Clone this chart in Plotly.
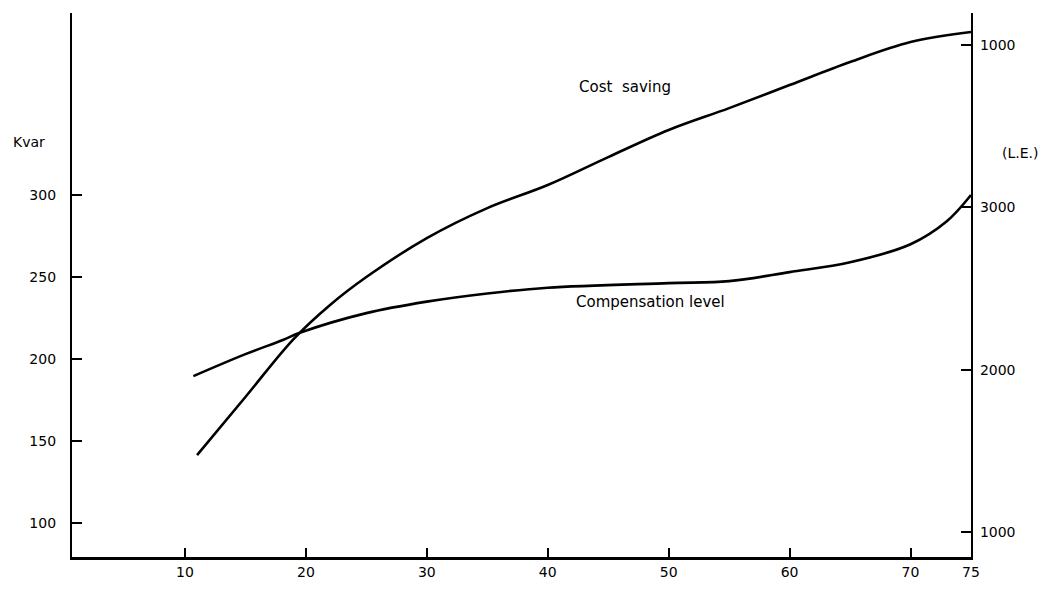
import plotly.graph_objects as go

# Data
x_comp = [10.7, 15, 18.1, 19.5, 25, 30, 35, 40, 50, 55, 60, 65, 70, 73, 75]
kvar_comp = [189.6, 203, 211.6, 216, 228, 235, 240, 243.5, 246.3, 247.5, 253, 259, 270, 284, 300]

x_cost = [11, 15, 19, 22, 25, 30, 35, 40, 45, 50, 55, 60, 65, 70, 75]
le_cost = [1474, 1832, 2190, 2399, 2571, 2811, 2996, 3138, 3310, 3477, 3612, 3754, 3896, 4019, 4081]

x_ticks = [10, 20, 30, 40, 50, 60, 70, 75]
left_ticks = [100, 150, 200, 250, 300]
right_ticks = [1000, 2000, 3000, 4000]
right_ticktext = ["1000", "2000", "3000", "1000"]

FONT = "DejaVu Sans"

fig = go.Figure()
fig.add_trace(go.Scatter(x=x_comp, y=kvar_comp, mode="lines",
                         line=dict(color="black", width=2.6, shape="spline", smoothing=1.0),
                         yaxis="y", showlegend=False))
fig.add_trace(go.Scatter(x=x_cost, y=le_cost, mode="lines",
                         line=dict(color="black", width=2.6, shape="spline", smoothing=1.0),
                         yaxis="y2", showlegend=False))

fig.update_layout(
    width=1054, height=594,
    margin=dict(l=64, r=91, t=5, b=45),
    paper_bgcolor="white", plot_bgcolor="white",
    font=dict(family=FONT, size=14, color="black"),
    xaxis=dict(range=[0.66, 75], tickvals=x_ticks, ticks="inside", ticklen=9,
               tickwidth=1.5, tickcolor="black", showline=True, linecolor="black",
               linewidth=2.5, showgrid=False, zeroline=False,
               ticklabelstandoff=0,
               tickfont=dict(family=FONT, size=14)),
    yaxis=dict(range=[79.3, 411], tickvals=left_ticks, ticks="inside", ticklen=10,
               tickwidth=2, tickcolor="black", showline=True, linecolor="black",
               linewidth=2.2, showgrid=False, zeroline=False,
               ticklabelstandoff=11,
               tickfont=dict(family=FONT, size=14)),
    yaxis2=dict(range=[846, 4198], tickvals=right_ticks, ticktext=right_ticktext,
                overlaying="y", side="right", ticks="inside", ticklen=10,
                tickwidth=1.5, tickcolor="black", showline=True, linecolor="black",
                linewidth=2.2, showgrid=False, zeroline=False,
                ticklabelstandoff=4,
                tickfont=dict(family=FONT, size=14)),
    annotations=[
        dict(text="Kvar", x=-0.048, y=0.763, xref="paper", yref="paper",
             xanchor="center", yanchor="middle",
             showarrow=False, font=dict(family=FONT, size=14)),
        dict(text="(L.E.)", x=1.0545, y=0.743, xref="paper", yref="paper",
             xanchor="center", yanchor="middle",
             showarrow=False, font=dict(family=FONT, size=14)),
        dict(text="Cost  saving", x=0.615, y=0.864, xref="paper", yref="paper",
             xanchor="center", yanchor="middle",
             showarrow=False, font=dict(family=FONT, size=15)),
        dict(text="Compensation level", x=0.643, y=0.469, xref="paper", yref="paper",
             xanchor="center", yanchor="middle",
             showarrow=False, font=dict(family=FONT, size=15)),
    ],
)

fig.write_html("out.html")
